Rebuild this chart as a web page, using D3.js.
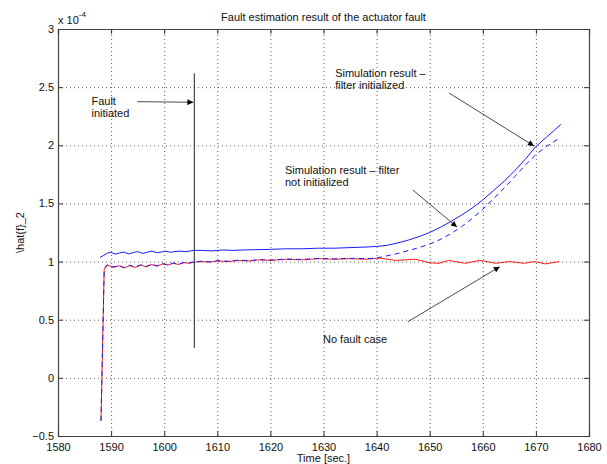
<!DOCTYPE html>
<html>
<head>
<meta charset="utf-8">
<script src="https://cdn.jsdelivr.net/npm/d3@7"></script>
<style>
  html, body { margin: 0; padding: 0; background: #fff; }
  svg { display: block; }
  text { font-family: "Liberation Sans", Arial, Helvetica, sans-serif; fill: #111; }
</style>
</head>
<body>
<svg id="chart" width="607" height="464"></svg>
<script>
// ---- data (values in units of 1e-4) ----
const xTicks = [1580, 1590, 1600, 1610, 1620, 1630, 1640, 1650, 1660, 1670, 1680];
const yTicks = [-0.5, 0, 0.5, 1, 1.5, 2, 2.5, 3];
const yTickLabels = ["\u22120.5", "0", "0.5", "1", "1.5", "2", "2.5", "3"];

// Simulation result - filter initialized (solid blue)
const initT = [1587.9, 1588.5, 1589.3, 1589.9, 1590.8, 1591.6, 1592.4, 1593.3, 1594.1, 1595.0, 1596.0, 1596.8, 1597.7, 1598.6, 1599.4, 1600.3, 1601.2, 1602.0, 1603.0, 1604.0, 1605.0, 1605.6, 1607, 1609, 1611, 1613, 1615, 1617, 1620, 1623, 1626, 1629, 1632, 1635, 1638, 1640, 1642, 1644, 1646, 1648, 1650, 1652, 1654, 1656, 1658, 1660, 1662, 1664, 1666, 1668, 1670, 1672, 1673.5, 1674.7];
const initV = [1.035, 1.05, 1.072, 1.08, 1.064, 1.074, 1.082, 1.066, 1.076, 1.086, 1.07, 1.08, 1.09, 1.076, 1.082, 1.09, 1.08, 1.086, 1.09, 1.085, 1.092, 1.097, 1.096, 1.092, 1.1, 1.096, 1.1, 1.102, 1.105, 1.11, 1.11, 1.115, 1.115, 1.12, 1.125, 1.13, 1.14, 1.16, 1.185, 1.215, 1.25, 1.295, 1.345, 1.40, 1.46, 1.53, 1.61, 1.69, 1.78, 1.88, 1.99, 2.07, 2.13, 2.18];

// Simulation result - filter not initialized (dashed blue)
const notInitT = [1588.1, 1588.7, 1589.3, 1590.5, 1591.5, 1592.4, 1593.5, 1594.5, 1595.6, 1596.6, 1597.7, 1598.6, 1599.7, 1600.7, 1601.7, 1602.7, 1603.7, 1604.7, 1605.6, 1607, 1608.5, 1610, 1612, 1614, 1616, 1618, 1620, 1623, 1626, 1629, 1632, 1635, 1638, 1640, 1642, 1644, 1646, 1648, 1650, 1652, 1654, 1656, 1658, 1660, 1662, 1664, 1666, 1668, 1670, 1672, 1674.7];
const notInitV = [-0.37, 0.94, 0.972, 0.953, 0.968, 0.948, 0.968, 0.953, 0.972, 0.958, 0.978, 0.963, 0.982, 0.972, 0.988, 0.978, 0.992, 0.988, 0.998, 1.003, 0.998, 1.008, 1.003, 1.012, 1.008, 1.017, 1.013, 1.022, 1.018, 1.027, 1.023, 1.028, 1.025, 1.03, 1.05, 1.07, 1.095, 1.12, 1.15, 1.19, 1.24, 1.30, 1.37, 1.45, 1.54, 1.63, 1.73, 1.83, 1.92, 1.99, 2.07];

// No fault case (solid red)
const noFaultT = [1588.1, 1588.7, 1589.3, 1590.5, 1591.5, 1592.4, 1593.5, 1594.5, 1595.6, 1596.6, 1597.7, 1598.6, 1599.7, 1600.7, 1601.7, 1602.7, 1603.7, 1604.7, 1605.6, 1607, 1608.5, 1610, 1612, 1614, 1616, 1618, 1620, 1623, 1626, 1629, 1632, 1635, 1638, 1640.5, 1643.6, 1647.3, 1649.9, 1651.7, 1653.6, 1656.7, 1659.4, 1662.5, 1665, 1667.8, 1669.7, 1671.8, 1674.4];
const noFaultV = [-0.37, 0.93, 0.97, 0.95, 0.965, 0.945, 0.965, 0.95, 0.97, 0.955, 0.975, 0.96, 0.98, 0.97, 0.985, 0.975, 0.99, 0.985, 0.995, 1.0, 0.995, 1.005, 1.0, 1.01, 1.005, 1.015, 1.01, 1.02, 1.015, 1.025, 1.02, 1.025, 1.02, 1.03, 1.01, 1.02, 0.99, 0.985, 1.01, 0.985, 1.01, 0.985, 1.0, 0.985, 1.0, 0.98, 1.0];

// Fault initiation marker (time, value range)
const faultTime = 1605.67;
const faultRange = [0.257, 2.619];

// Annotations (data coordinates)
const annotations = [
  { lines: ["Fault", "initiated"], textAt: [1586.3, 2.35], from: [1594.93, 2.375], to: [1605.5, 2.37] },
  { lines: ["Simulation result \u2013", "filter initialized"], textAt: [1632.2, 2.587], from: [1653.63, 2.45], to: [1669.64, 1.994] },
  { lines: ["Simulation result \u2013 filter", "not initialized"], textAt: [1622.75, 1.753], from: [1646.85, 1.615], to: [1655.14, 1.297] },
  { lines: ["No fault case"], textAt: [1629.9, 0.30], from: [1645.9, 0.483], to: [1663.2, 0.956] }
];

// ---- layout ----
const svg = d3.select("#chart");
const L = 58, R = 589, T = 29, B = 436;
const x = d3.scaleLinear().domain([1580, 1680]).range([L, R]);
const y = d3.scaleLinear().domain([-0.5, 3]).range([B, T]);

// grid
const gridStyle = g => g.selectAll("line").attr("stroke", "#333").attr("stroke-width", 0.8).attr("stroke-dasharray", "1,3");
const gx = svg.append("g").attr("transform", `translate(0,${B})`)
  .call(d3.axisBottom(x).tickValues(xTicks.slice(1, -1)).tickSize(-(B - T)).tickFormat(""));
gx.select(".domain").remove(); gridStyle(gx);
const gy = svg.append("g").attr("transform", `translate(${L},0)`)
  .call(d3.axisLeft(y).tickValues(yTicks.slice(1, -1)).tickSize(-(R - L)).tickFormat(""));
gy.select(".domain").remove(); gridStyle(gy);

// lines
const line = d3.line().x(d => x(d[0])).y(d => y(d[1]));
const zip = (a, b) => a.map((t, i) => [t, b[i]]);
svg.append("path").datum(zip(noFaultT, noFaultV)).attr("d", line)
  .attr("fill", "none").attr("stroke", "#ff1a1a").attr("stroke-width", 1);
svg.append("path").datum(zip(notInitT, notInitV)).attr("d", line)
  .attr("fill", "none").attr("stroke", "#1a1aff").attr("stroke-width", 1).attr("stroke-dasharray", "5,4");
svg.append("path").datum(zip(initT, initV)).attr("d", line)
  .attr("fill", "none").attr("stroke", "#1a1aff").attr("stroke-width", 1);

// fault marker line
svg.append("line")
  .attr("x1", x(faultTime)).attr("x2", x(faultTime))
  .attr("y1", y(faultRange[1])).attr("y2", y(faultRange[0]))
  .attr("stroke", "#222").attr("stroke-width", 1);

// arrow marker
svg.append("defs").append("marker")
  .attr("id", "ah").attr("viewBox", "0 0 10 10").attr("refX", 10).attr("refY", 5)
  .attr("markerUnits", "userSpaceOnUse").attr("markerWidth", 9).attr("markerHeight", 6)
  .attr("orient", "auto")
  .append("path").attr("d", "M0,0 L10,5 L0,10 Z").attr("fill", "#000");

annotations.forEach(a => {
  svg.append("line")
    .attr("x1", x(a.from[0])).attr("y1", y(a.from[1]))
    .attr("x2", x(a.to[0])).attr("y2", y(a.to[1]))
    .attr("stroke", "#333").attr("stroke-width", 0.9).attr("marker-end", "url(#ah)");
  const t = svg.append("text").attr("x", x(a.textAt[0])).attr("y", y(a.textAt[1]))
    .attr("font-size", 11);
  a.lines.forEach((s, i) => t.append("tspan").attr("x", x(a.textAt[0])).attr("dy", i === 0 ? 0 : 12).text(s));
});

// axes (inward ticks on all sides)
const ax = svg.append("g").attr("transform", `translate(0,${B})`)
  .call(d3.axisBottom(x).tickValues(xTicks).tickSize(-5).tickPadding(7).tickFormat(d3.format("d")));
const ay = svg.append("g").attr("transform", `translate(${L},0)`)
  .call(d3.axisLeft(y).tickValues(yTicks).tickSize(-5).tickPadding(4).tickFormat((d, i) => yTickLabels[i]));
const axT = svg.append("g").attr("transform", `translate(0,${T})`)
  .call(d3.axisTop(x).tickValues(xTicks).tickSize(-5).tickFormat(""));
const ayR = svg.append("g").attr("transform", `translate(${R},0)`)
  .call(d3.axisRight(y).tickValues(yTicks).tickSize(-5).tickFormat(""));
[ax, ay, axT, ayR].forEach(g => {
  g.select(".domain").attr("stroke", "#444").attr("stroke-width", 1.2);
  g.selectAll(".tick line").attr("stroke", "#333");
  g.selectAll("text").attr("font-size", 11).attr("fill", "#111")
    .attr("font-family", "'Liberation Sans', Arial, sans-serif");
});

// titles & labels
svg.append("text").attr("x", (L + R) / 2).attr("y", 21).attr("text-anchor", "middle")
  .attr("font-size", 11).text("Fault estimation result of the actuator fault");
svg.append("text").attr("x", (L + R) / 2).attr("y", 462).attr("text-anchor", "middle")
  .attr("font-size", 11).text("Time [sec.]");
svg.append("text").attr("transform", `translate(24,${(T + B) / 2}) rotate(-90)`)
  .attr("text-anchor", "middle").attr("font-size", 11).text("\\hat{f}_2");
const ex = svg.append("text").attr("x", L).attr("y", 24).attr("font-size", 11);
ex.append("tspan").text("x 10");
ex.append("tspan").attr("dy", -7).attr("font-size", 8).text("-4");
</script>
</body>
</html>
